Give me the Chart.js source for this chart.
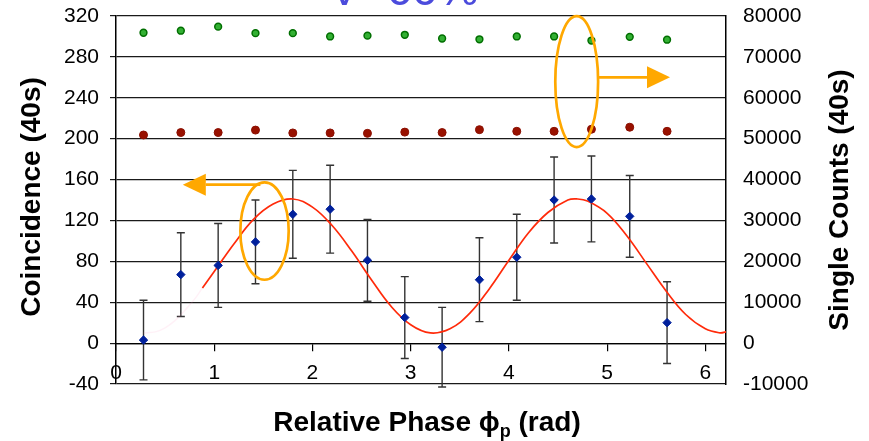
<!DOCTYPE html>
<html>
<head>
<meta charset="utf-8">
<script src="https://cdn.jsdelivr.net/npm/chart.js@4.4.1/dist/chart.umd.min.js"></script>
<style>
  body { margin: 0; background: #fff; }
  #wrap { width: 869px; height: 441px; }
</style>
</head>
<body>
<div id="wrap"><canvas id="phase-chart" width="869" height="441"></canvas></div>
<script>
// measured points (relative phase in rad)
const phase = [0.28, 0.66, 1.04, 1.42, 1.80, 2.18, 2.56, 2.94, 3.32, 3.70, 4.08, 4.46, 4.84, 5.23, 5.61];
const coincidence = [3, 67, 76, 99, 126, 131, 81, 25, -4, 62, 84, 140, 141, 124, 20];
const coincErr = [39, 41, 41, 41, 43, 43, 40, 40, 39, 41, 42, 42, 42, 40, 40];

// single counts, right axis
const singlesA = [75900, 76400, 77400, 75800, 75800, 75000, 75200, 75400, 74500, 74300, 75000, 75000, 74000, 74900, 74200];
const singlesB = [50900, 51500, 51500, 52100, 51400, 51400, 51300, 51600, 51500, 52200, 51800, 51800, 52300, 52800, 51800];

// fit curve
const fitX = [0.88, 1.0, 1.2, 1.4, 1.6, 1.8, 2.0, 2.2, 2.4, 2.6, 2.8, 3.0, 3.2, 3.4, 3.6, 3.8, 4.0, 4.2, 4.4, 4.6, 4.7, 4.8, 5.0, 5.2, 5.4, 5.6, 5.8, 6.0, 6.15, 6.21];
const fitY = [54, 70, 97, 121, 136, 141, 133, 115, 90, 62, 36, 18, 10, 14, 29, 53, 81, 108, 128, 140, 141, 139, 127, 105, 78, 51, 28, 14, 10, 11];
const fadedX = [0.28, 0.4, 0.5, 0.6, 0.7, 0.8, 0.88];
const fadedY = [10, 11, 15, 22, 32, 43, 54];

// axis ticks
const phaseTicks = [0, 1, 2, 3, 4, 5, 6];
const leftRange = [-40, 320, 40];
const rightRange = [-10000, 80000, 10000];

const FONT = "'Liberation Sans', Arial, sans-serif";
const ORANGE = "#FFA800";

function pts(xs, ys) {
    return xs.map((x, i) => ({ x: x, y: ys[i] }));
}

// keep the y axes from pushing the plot area around
function fixWidth(w) {
    return s => { s.width = w; s.paddingTop = 0; s.paddingBottom = 0; };
}

// vertical error bars on the coincidence points
const errorBars = {
    id: "errorBars",
    beforeDatasetsDraw(chart) {
        const { ctx, scales: { x, y } } = chart;
        ctx.save();
        ctx.strokeStyle = "#333";
        ctx.lineWidth = 1.4;
        phase.forEach((p, i) => {
            const px = x.getPixelForValue(p);
            const top = y.getPixelForValue(coincidence[i] + coincErr[i]);
            const bot = y.getPixelForValue(coincidence[i] - coincErr[i]);
            ctx.beginPath();
            ctx.moveTo(px, top); ctx.lineTo(px, bot);
            ctx.moveTo(px - 4, top); ctx.lineTo(px + 4, top);
            ctx.moveTo(px - 4, bot); ctx.lineTo(px + 4, bot);
            ctx.stroke();
        });
        ctx.restore();
    }
};

// orange ellipses + arrows pointing to the axis each series belongs to
const markers = {
    id: "markers",
    afterDatasetsDraw(chart) {
        const { ctx, scales: { x, y } } = chart;
        ctx.save();
        ctx.strokeStyle = ORANGE;
        ctx.fillStyle = ORANGE;
        ctx.lineWidth = 2.7;

        function ellipse(cx, cy, rx, ry) {
            const px = x.getPixelForValue(cx), py = y.getPixelForValue(cy);
            const w = x.getPixelForValue(cx + rx) - px;
            const h = py - y.getPixelForValue(cy + ry);
            ctx.beginPath();
            ctx.ellipse(px, py, w, h, 0, 0, Math.PI * 2);
            ctx.stroke();
        }
        function arrow(from, to, yv, head) {
            const py = y.getPixelForValue(yv);
            const a = x.getPixelForValue(from), b = x.getPixelForValue(to);
            const dir = b > a ? 1 : -1;
            ctx.beginPath();
            ctx.moveTo(a, py); ctx.lineTo(b - dir * head, py);
            ctx.stroke();
            ctx.beginPath();
            ctx.moveTo(b, py);
            ctx.lineTo(b - dir * head, py - 11);
            ctx.lineTo(b - dir * head, py + 11);
            ctx.closePath();
            ctx.fill();
        }

        ellipse(1.512, 109.6, 0.246, 47.6);
        arrow(1.47, 0.68, 155, 23);
        ellipse(4.69, 255.8, 0.218, 64);
        arrow(4.908, 5.64, 260, 23);
        ctx.restore();
    }
};

// axis titles and the clipped heading
const titles = {
    id: "titles",
    afterDraw(chart) {
        const { ctx, chartArea } = chart;
        ctx.save();
        ctx.fillStyle = "#000";
        ctx.font = "bold 28px " + FONT;
        ctx.textAlign = "center";
        ctx.textBaseline = "middle";

        ctx.save();
        ctx.translate(32, 197);
        ctx.rotate(-Math.PI / 2);
        ctx.fillText("Coincidence (40s)", 0, 0);
        ctx.restore();

        ctx.save();
        ctx.translate(840, 200);
        ctx.rotate(-Math.PI / 2);
        ctx.fillText("Single Counts (40s)", 0, 0);
        ctx.restore();

        // x title with subscript p
        const parts = [
            { t: "Relative Phase ", f: "bold 28px " + FONT, dy: 0 },
            { t: "\u03D5", f: "bold 28px " + FONT, dy: 0 },
            { t: "p", f: "bold 18px " + FONT, dy: 6 },
            { t: " (rad)", f: "bold 28px " + FONT, dy: 0 }
        ];
        ctx.textAlign = "left";
        ctx.textBaseline = "alphabetic";
        let total = 0;
        parts.forEach(p => { ctx.font = p.f; total += ctx.measureText(p.t).width; });
        let cx = (chartArea.left + chartArea.right) / 2 + 6 - total / 2;
        parts.forEach(p => {
            ctx.font = p.f;
            ctx.fillText(p.t, cx, 431 + p.dy);
            cx += ctx.measureText(p.t).width;
        });

        ctx.fillStyle = "#4b4bdc";
        ctx.font = "46px " + FONT;
        ctx.fillText("V=60%", 329, 5);
        ctx.restore();
    }
};

document.addEventListener("DOMContentLoaded", function () {
    const ctx = document.getElementById("phase-chart").getContext("2d");

    new Chart(ctx, {
        type: "scatter",
        data: {
            datasets: [
                {
                    label: "Coincidence",
                    data: pts(phase, coincidence),
                    yAxisID: "y",
                    pointStyle: "rectRot",
                    pointRadius: 4.2,
                    backgroundColor: "#00209c",
                    borderColor: "#00209c",
                    borderWidth: 1,
                    order: 0
                },
                {
                    label: "Fit",
                    data: pts(fitX, fitY),
                    yAxisID: "y",
                    showLine: true,
                    pointRadius: 0,
                    borderColor: "#ff2a0a",
                    borderWidth: 1.7,
                    tension: 0.4,
                    order: 1
                },
                {
                    label: "Fit (faded)",
                    data: pts(fadedX, fadedY),
                    yAxisID: "y",
                    showLine: true,
                    pointRadius: 0,
                    borderColor: "rgba(255, 140, 190, 0.12)",
                    borderWidth: 1.5,
                    tension: 0.4,
                    order: 2
                },
                {
                    label: "Singles A",
                    data: pts(phase, singlesA),
                    yAxisID: "y2",
                    pointStyle: "circle",
                    pointRadius: 3.4,
                    backgroundColor: "#33b033",
                    borderColor: "#006e00",
                    borderWidth: 1.5,
                    order: 3
                },
                {
                    label: "Singles B",
                    data: pts(phase, singlesB),
                    yAxisID: "y2",
                    pointStyle: "circle",
                    pointRadius: 4,
                    backgroundColor: "#991100",
                    borderColor: "#8a0f00",
                    borderWidth: 1,
                    order: 4
                }
            ]
        },
        options: {
            responsive: false,
            animation: false,
            devicePixelRatio: 1,
            layout: { padding: { top: 16, bottom: 57, left: 0, right: 0 } },
            plugins: {
                legend: { display: false },
                tooltip: { enabled: false }
            },
            scales: {
                x: {
                    type: "linear",
                    position: { y: 0 },
                    min: 0,
                    max: 6.21,
                    afterBuildTicks: s => { s.ticks = phaseTicks.map(v => ({ value: v })); },
                    ticks: { font: { size: 21, family: FONT }, color: "#000", padding: 10, maxRotation: 0 },
                    grid: { drawOnChartArea: false, drawTicks: true, tickLength: 7, color: "#000", lineWidth: 1.2 },
                    border: { display: true, color: "#000", width: 1.2 }
                },
                y: {
                    position: "left",
                    min: leftRange[0],
                    max: leftRange[1],
                    ticks: { stepSize: leftRange[2], font: { size: 21, family: FONT }, color: "#000", padding: 11,
                        callback: v => String(v) },
                    grid: { color: "#1a1a1a", lineWidth: 1.2, tickLength: 6 },
                    border: { display: true, color: "#000", width: 1.5 },
                    afterFit: fixWidth(116)
                },
                y2: {
                    position: "right",
                    min: rightRange[0],
                    max: rightRange[1],
                    ticks: { stepSize: rightRange[2], font: { size: 21, family: FONT }, color: "#000", padding: 17,
                        callback: v => String(v) },
                    grid: { drawOnChartArea: false, drawTicks: false },
                    border: { display: true, color: "#000", width: 1.5 },
                    afterFit: fixWidth(143)
                }
            }
        },
        plugins: [errorBars, markers, titles]
    });
});
</script>
</body>
</html>
